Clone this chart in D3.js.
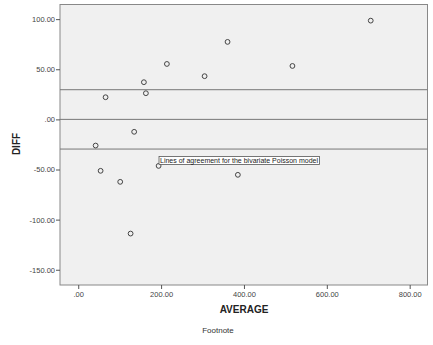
<!DOCTYPE html>
<html><head><meta charset="utf-8">
<script src="https://cdn.jsdelivr.net/npm/d3@7"></script>
<style>body{margin:0;background:#fff;}svg{display:block;font-family:"Liberation Sans",Arial,sans-serif;}</style>
</head><body><svg id="c" width="433" height="345"></svg>
<script>
const average = [66, 135, 158.5, 163.3, 214, 305, 360.4, 517, 706, 42, 54, 101.3, 194, 385.3, 126.4];
const diff    = [22.1, -12.4, 37.1, 26.1, 55.3, 43.1, 77.3, 53.3, 98.5, -26.1, -51.3, -62.3, -46.4, -55.3, -113.9];
const refLines = [29.6, 0, -29.6];
const xTicks = [0, 200, 400, 600, 800];
const yTicks = [100, 50, 0, -50, -100, -150];
const annotation = "Lines of agreement for the bivariate Poisson model";

const svg = d3.select("#c");
const L = 60, R = 427.5, T = 4.5, B = 285;
const x = d3.scaleLinear().domain([-44, 843]).range([L, R]);
const y = d3.scaleLinear().domain([-165.2, 114.6]).range([B, T]);
const fmt = v => { let s = d3.format(".2f")(Math.abs(v)).replace(/^0/, ""); return (v < 0 ? "-" : "") + s; };

svg.append("rect").attr("x", L).attr("y", T).attr("width", R - L).attr("height", B - T)
  .attr("fill", "#f0f0f0").attr("stroke", "#888").attr("stroke-width", 1);

svg.selectAll(".ref").data(refLines).enter().append("line")
  .attr("x1", L).attr("x2", R).attr("y1", d => y(d)).attr("y2", d => y(d))
  .attr("stroke", "#777").attr("stroke-width", 1);

const ya = svg.append("g").attr("transform", `translate(${L},0)`)
  .call(d3.axisLeft(y).tickValues(yTicks).tickFormat(fmt).tickSize(4).tickPadding(1));
const xa = svg.append("g").attr("transform", `translate(0,${B})`)
  .call(d3.axisBottom(x).tickValues(xTicks).tickFormat(fmt).tickSize(4).tickPadding(3));
[ya, xa].forEach(g => {
  g.select(".domain").remove();
  g.selectAll("line").attr("stroke", "#555");
  g.selectAll("text").attr("fill", "#444").attr("font-size", 7.5);
});

const pts = average.map((a, i) => ({a, d: diff[i]}));
svg.selectAll(".pt").data(pts).enter().append("circle")
  .attr("cx", p => x(p.a)).attr("cy", p => y(p.d)).attr("r", 2.4)
  .attr("fill", "none").attr("stroke", "#444").attr("stroke-width", 1);

const ax = x(195), ay = y(-37);
const box = svg.append("rect");
const t = svg.append("text").attr("x", ax + 1).attr("y", ay + 6.3).attr("font-size", 7)
  .attr("fill", "#222").text(annotation);
const bb = t.node().getBBox();
box.attr("x", ax).attr("y", ay).attr("width", bb.width + 2).attr("height", 8)
  .attr("fill", "#fff").attr("stroke", "#555").attr("stroke-width", 0.8);

svg.append("text").attr("transform", `translate(20,144) rotate(-90)`)
  .attr("text-anchor", "middle").attr("font-size", 10).attr("font-weight", "bold").attr("fill", "#222").text("DIFF");
svg.append("text").attr("x", 244).attr("y", 313).attr("text-anchor", "middle")
  .attr("font-size", 10).attr("font-weight", "bold").attr("fill", "#222").text("AVERAGE");
svg.append("text").attr("x", 218).attr("y", 333).attr("text-anchor", "middle")
  .attr("font-size", 8).attr("fill", "#333").text("Footnote");
</script></body></html>
